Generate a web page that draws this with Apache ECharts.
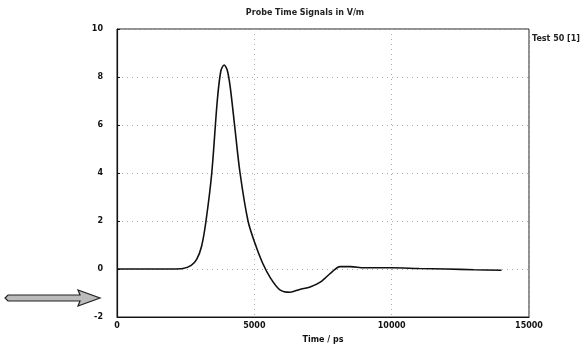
<!DOCTYPE html>
<html>
<head>
<meta charset="utf-8">
<script src="https://cdn.jsdelivr.net/npm/echarts@6/dist/echarts.min.js"></script>
<style>
html, body { margin: 0; padding: 0; background: #fff; }
#main { width: 587px; height: 351px; }
</style>
</head>
<body>
<div id="main"></div>
<script>
// probe signal (time in ps, field in V/m)
var timePs = [0, 1000, 2000, 2400, 2700, 2900, 3080, 3240, 3450, 3650, 3780, 3900, 4010, 4120, 4280, 4480, 4770, 5020, 5300, 5600, 5930, 6300, 6650, 7030, 7400, 7800, 8120, 8500, 9000, 10000, 11000, 12000, 13000, 14000];
var fieldVm = [0, 0, 0, 0.02, 0.15, 0.4, 0.95, 2.0, 4.0, 7.0, 8.25, 8.5, 8.3, 7.6, 6.0, 4.0, 2.0, 1.08, 0.25, -0.4, -0.87, -0.97, -0.85, -0.75, -0.55, -0.15, 0.1, 0.1, 0.05, 0.05, 0.02, 0, -0.03, -0.05];
var seriesName = 'Test 50 [1]';

var points = [];
for (var i = 0; i < timePs.length; i++) {
	points.push([timePs[i], fieldVm[i]]);
}

var myChart = echarts.init(document.getElementById('main'));
var labelFont = { color: '#111', fontSize: 8, fontWeight: 'bold', fontFamily: 'DejaVu Sans' };
option = {
	animation: false,
	backgroundColor: '#fff',
	title: {
		text: 'Probe Time Signals in V/m',
		left: 300, top: 4, textAlign: 'center',
		textStyle: { fontSize: 8, fontWeight: 'bold', color: '#222', fontFamily: 'DejaVu Sans' }
	},
	legend: {
		data: [seriesName],
		icon: 'none',
		right: 2, top: 27,
		itemWidth: 0, itemGap: 0,
		textStyle: { fontSize: 8, fontWeight: 'bold', color: '#222', fontFamily: 'DejaVu Sans' }
	},
	grid: {
		left: 117, right: 58, top: 29, bottom: 34,
		show: true, borderColor: '#222', borderWidth: 1
	},
	xAxis: {
		type: 'value', min: 0, max: 15000, interval: 5000,
		name: 'Time / ps', nameLocation: 'middle', nameGap: 19,
		nameTextStyle: labelFont,
		axisLine: { onZero: false, lineStyle: { color: '#111', width: 1 } },
		axisTick: { show: false },
		axisLabel: Object.assign({ margin: 5, formatter: function (v) { return String(v); } }, labelFont),
		splitLine: { lineStyle: { color: '#aaa', type: [1, 4], width: 1 } }
	},
	yAxis: {
		type: 'value', min: -2, max: 10, interval: 2,
		axisLine: { show: true, lineStyle: { color: '#111', width: 1.2 } },
		axisTick: { show: true, inside: true, length: 3, lineStyle: { color: '#111' } },
		axisLabel: Object.assign({ margin: 14 }, labelFont),
		splitLine: { lineStyle: { color: '#aaa', type: [1, 4], width: 1 } }
	},
	series: [{
		name: seriesName,
		type: 'line',
		data: points,
		smooth: 0.3,
		showSymbol: false,
		lineStyle: { color: '#111', width: 1.6 },
		itemStyle: { color: '#111' }
	}],
	graphic: [{
		type: 'polygon',
		shape: {
			points: [[8, 295], [80, 295], [78, 290], [100, 298], [78, 306], [80, 301], [8, 301], [5, 298]]
		},
		style: { fill: '#bbb', stroke: '#222', lineWidth: 1.2 }
	}]
};
myChart.setOption(option);
window.onresize = myChart.resize;
</script>
</body>
</html>
